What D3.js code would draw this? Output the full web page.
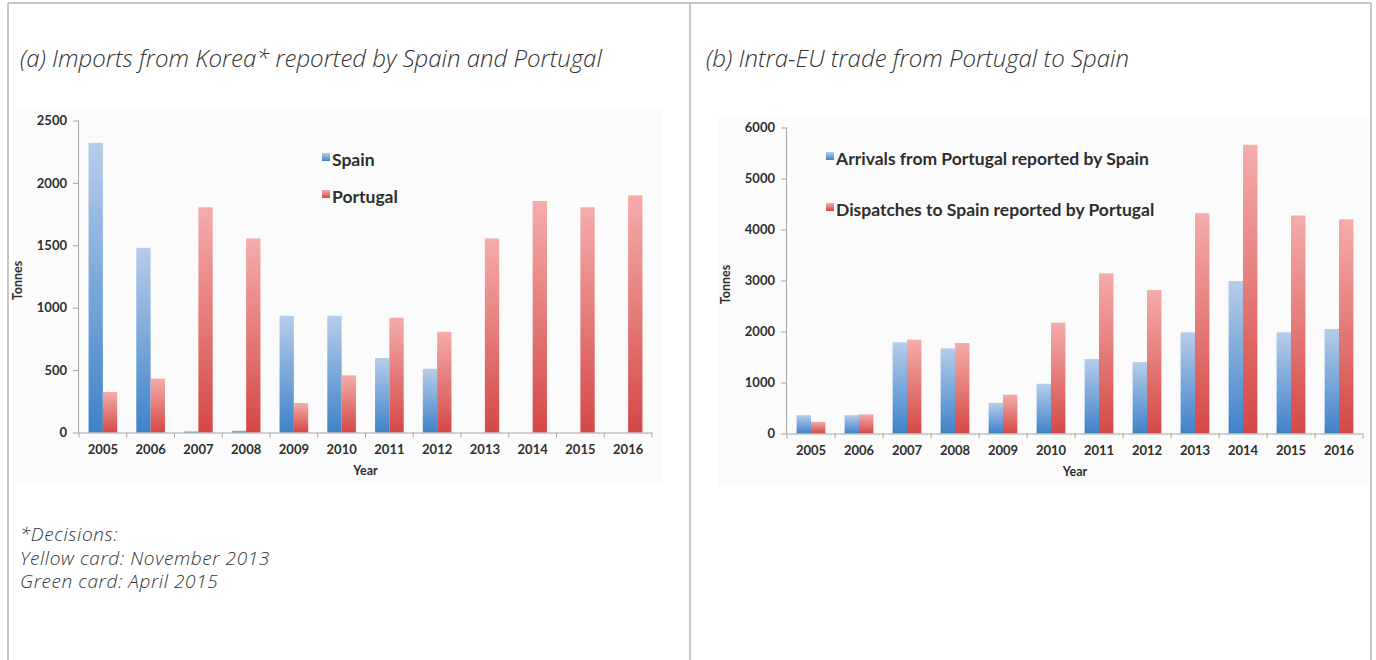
<!DOCTYPE html>
<html>
<head>
<meta charset="utf-8">
<script src="https://cdn.jsdelivr.net/npm/d3@7"></script>
<style>
  html, body { margin: 0; padding: 0; background: #fff; }
  svg { display: block; }
  .title, .note { font-family: "Open Sans", Roboto, sans-serif; font-style: italic; font-weight: 300; fill: #333; }
  .tick text, .axis-title, .legend text { font-family: Lato, "Open Sans", sans-serif; font-weight: 700; fill: #2e2e2e; }
</style>
</head>
<body>
<svg id="chart" width="1376" height="660"></svg>
<script>
// Years on both charts
const years = ["2005","2006","2007","2008","2009","2010","2011","2012","2013","2014","2015","2016"];

// (a) Imports from Korea, tonnes
const importsSpain    = [2320, 1480, 10, 15, 935, 935, 597, 510, 0, 0, 0, 0];
const importsPortugal = [325, 432, 1805, 1555, 236, 458, 920, 807, 1555, 1855, 1805, 1900];
const ticksA = [0, 500, 1000, 1500, 2000, 2500];

// (b) Intra-EU trade Portugal -> Spain, tonnes
const arrivalsSpain      = [360, 360, 1790, 1670, 600, 975, 1460, 1400, 1985, 2990, 1985, 2050];
const dispatchesPortugal = [230, 375, 1840, 1775, 760, 2175, 3140, 2815, 4320, 5660, 4275, 4200];
const ticksB = [0, 1000, 2000, 3000, 4000, 5000, 6000];

const svg = d3.select("#chart");

// gradients for the bar fills
const defs = svg.append("defs");
function gradient(id, top, bottom) {
  const g = defs.append("linearGradient").attr("id", id)
    .attr("x1", 0).attr("y1", 0).attr("x2", 0).attr("y2", 1);
  g.append("stop").attr("offset", "0%").attr("stop-color", top);
  g.append("stop").attr("offset", "100%").attr("stop-color", bottom);
}
gradient("gBlue", "#b6cdea", "#3f82c8");
gradient("gRed", "#f4adab", "#d44846");

// panel frame
const frame = svg.append("g").attr("stroke", "#b4b4b4").attr("stroke-width", 1.5).attr("fill", "none");
frame.append("line").attr("x1", 8).attr("x2", 1371).attr("y1", 3).attr("y2", 3);
frame.append("line").attr("x1", 8).attr("x2", 8).attr("y1", 3).attr("y2", 660);
frame.append("line").attr("x1", 690).attr("x2", 690).attr("y1", 3).attr("y2", 660);
frame.append("line").attr("x1", 1371).attr("x2", 1371).attr("y1", 3).attr("y2", 660);

// panel titles
svg.append("text").attr("class", "title").attr("x", 20).attr("y", 67).attr("font-size", 24)
  .text("(a) Imports from Korea* reported by Spain and Portugal");
svg.append("text").attr("class", "title").attr("x", 706).attr("y", 67).attr("font-size", 24)
  .text("(b) Intra-EU trade from Portugal to Spain");

// footnote
const notes = ["*Decisions:", "Yellow card: November 2013", "Green card: April 2015"];
svg.append("g").selectAll("text").data(notes).join("text")
  .attr("class", "note").attr("x", 20).attr("y", (d, i) => 541 + i * 23.5)
  .attr("font-size", 19).attr("letter-spacing", 0.6).text(d => d);

function barChart(opt) {
  const g = svg.append("g");
  // faint chart background
  g.append("rect").attr("x", opt.bg[0]).attr("y", opt.bg[1]).attr("width", opt.bg[2]).attr("height", opt.bg[3])
    .attr("fill", "#fbfbfb");

  const x = d3.scaleBand().domain(years).range([opt.x0, opt.x1]).padding(0);
  const inner = d3.scaleBand().domain([0, 1]).range([x.bandwidth() * 0.2, x.bandwidth() * 0.8]).padding(0);
  const y = d3.scaleLinear().domain([0, d3.max(opt.ticks)]).range([opt.y0, opt.y1]);

  // bars
  opt.series.forEach((s, si) => {
    g.append("g").selectAll("rect").data(s.values).join("rect")
      .attr("x", (d, i) => x(years[i]) + inner(si))
      .attr("width", inner.bandwidth())
      .attr("y", d => y(d))
      .attr("height", d => y(0) - y(d))
      .attr("fill", s.fill);
  });

  // y axis
  const ya = g.append("g").attr("transform", `translate(${opt.x0},0)`)
    .call(d3.axisLeft(y).tickValues(opt.ticks).tickSize(6).tickPadding(6).tickFormat(d3.format("d")));
  ya.selectAll("path, line").attr("stroke", "#a6a6a6");
  ya.select(".domain").attr("d", `M-0.5,${opt.y0}V${opt.y1}`);
  ya.selectAll("text").attr("font-size", 13);

  // x axis with ticks between categories
  const xa = g.append("g").attr("transform", `translate(0,${opt.y0})`)
    .call(d3.axisBottom(x).tickSize(0).tickPadding(12));
  xa.select(".domain").attr("stroke", "#a6a6a6").attr("d", `M${opt.x0},0.5H${opt.x1}`);
  xa.selectAll("text").attr("font-size", 13);
  const bounds = years.map(v => x(v)).concat([opt.x1]);
  xa.selectAll(".sep").data(bounds).join("line").attr("class", "sep")
    .attr("x1", d => d).attr("x2", d => d).attr("y1", 0).attr("y2", 5).attr("stroke", "#a6a6a6");

  // axis titles
  g.append("text").attr("class", "axis-title").attr("x", (opt.x0 + opt.x1) / 2).attr("y", opt.y0 + 42)
    .attr("text-anchor", "middle").attr("font-size", 12.5).text("Year");
  g.append("text").attr("class", "axis-title")
    .attr("transform", `translate(${opt.x0 - 57},${(opt.y0 + opt.y1) / 2 + 4}) rotate(-90)`)
    .attr("text-anchor", "middle").attr("font-size", 12.5).text("Tonnes");

  // legend
  const lg = g.append("g").attr("class", "legend");
  opt.series.forEach((s, i) => {
    const ly = opt.legend[1] + i * opt.legend[2];
    lg.append("rect").attr("x", opt.legend[0]).attr("y", ly - 13).attr("width", 8).attr("height", 8).attr("fill", s.fill);
    lg.append("text").attr("x", opt.legend[0] + 10).attr("y", ly).attr("font-size", 17.5).text(s.name);
  });
}

barChart({
  x0: 79, x1: 652, y0: 432.5, y1: 120.5, ticks: ticksA,
  bg: [16, 108, 646, 376],
  legend: [322, 166, 37],
  series: [
    { name: "Spain", values: importsSpain, fill: "url(#gBlue)" },
    { name: "Portugal", values: importsPortugal, fill: "url(#gRed)" }
  ]
});

barChart({
  x0: 787, x1: 1363, y0: 433.5, y1: 127.5, ticks: ticksB,
  bg: [718, 118, 652, 368],
  legend: [826, 165, 51],
  series: [
    { name: "Arrivals from Portugal reported by Spain", values: arrivalsSpain, fill: "url(#gBlue)" },
    { name: "Dispatches to Spain reported by Portugal", values: dispatchesPortugal, fill: "url(#gRed)" }
  ]
});
</script>
</body>
</html>
